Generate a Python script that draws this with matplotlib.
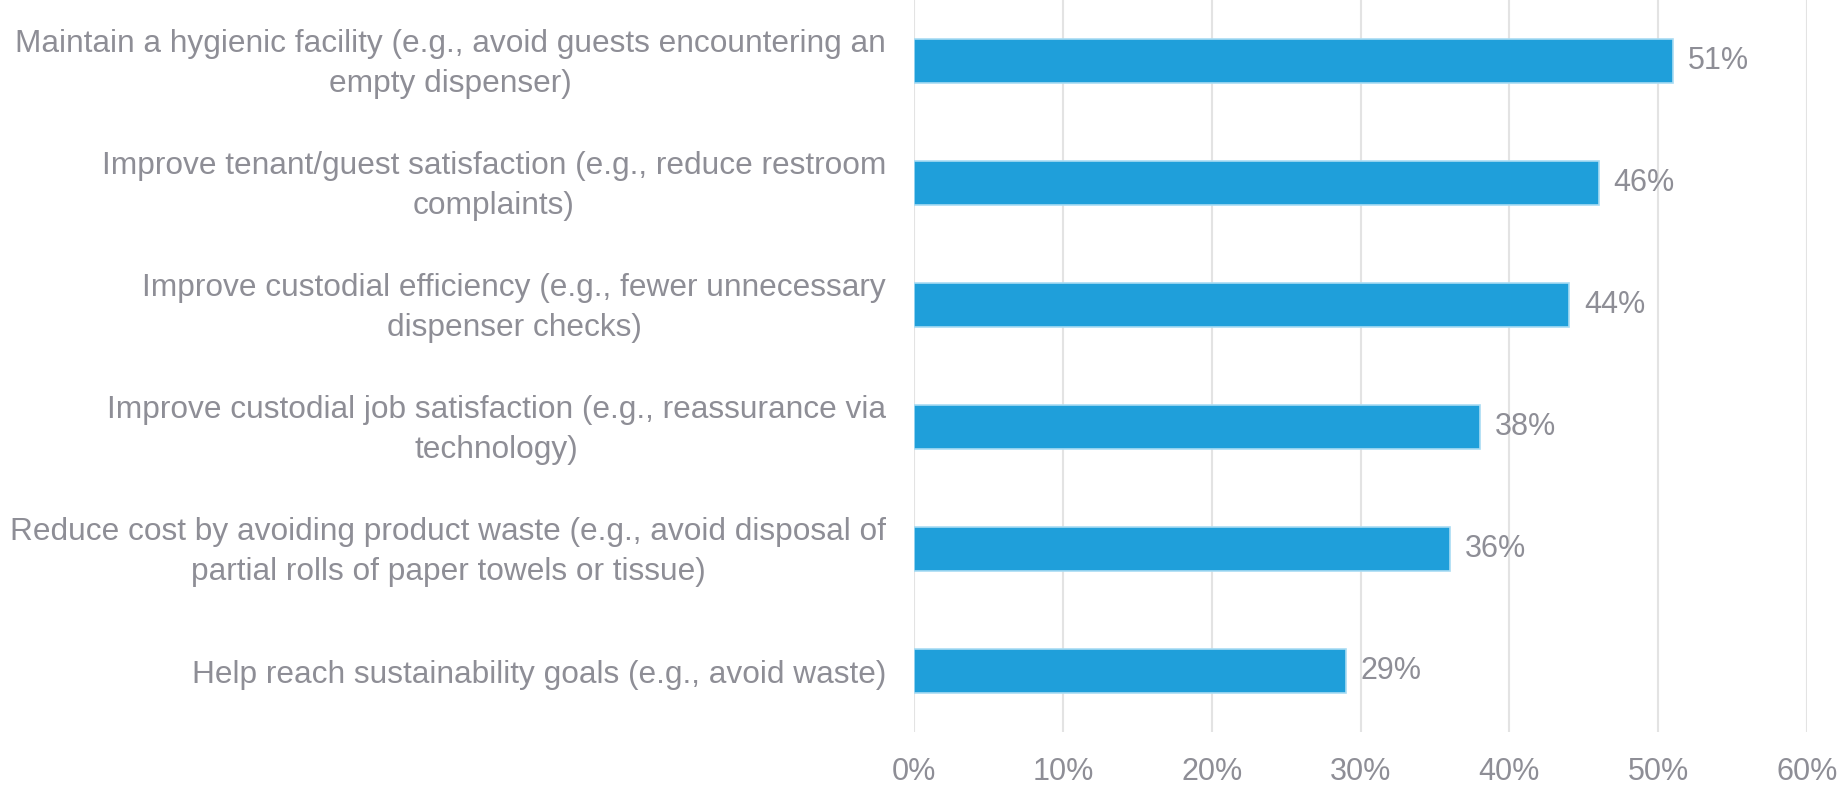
import matplotlib
matplotlib.use("Agg")
import matplotlib.pyplot as plt
from matplotlib.ticker import FuncFormatter
from matplotlib.transforms import ScaledTranslation

categories = [
    "Maintain a hygienic facility (e.g., avoid guests encountering an\nempty dispenser)",
    "Improve tenant/guest satisfaction (e.g., reduce restroom\ncomplaints)",
    "Improve custodial efficiency (e.g., fewer unnecessary\ndispenser checks)",
    "Improve custodial job satisfaction (e.g., reassurance via\ntechnology)",
    "Reduce cost by avoiding product waste (e.g., avoid disposal of\npartial rolls of paper towels or tissue)",
    "Help reach sustainability goals (e.g., avoid waste)",
]
values = [51, 46, 44, 38, 36, 29]
xticks = [0, 10, 20, 30, 40, 50, 60]

BAR = "#1f9fda"
TEXT = "#8e8e96"
GRID = "#e3e3e3"

plt.rcParams["font.family"] = ["Liberation Sans", "DejaVu Sans"]

fig = plt.figure(figsize=(18.44, 7.85), dpi=100)
ax = fig.add_axes([914 / 1844, 53 / 785, (1807 - 914) / 1844, 732 / 785])

ypos = list(range(len(categories)))
ax.barh(ypos, values, height=0.36, color=BAR, edgecolor="#a9dcf3",
        linewidth=1.2, zorder=3)
for y, v in zip(ypos, values):
    ax.text(v + 1.0, y, f"{v}%", va="center", ha="left", fontsize=22, color=TEXT)

ax.set_xlim(0, 60)
ax.set_ylim(len(categories) - 0.5, -0.5)
ax.set_xticks(xticks)
ax.xaxis.set_major_formatter(FuncFormatter(lambda x, _: f"{x:.0f}%"))
ax.set_yticks(ypos)
ax.set_yticklabels(categories, multialignment="center", fontsize=22.8,
                   linespacing=1.42)
ax.tick_params(axis="both", length=0, colors=TEXT)
ax.tick_params(axis="x", labelsize=22, pad=18)
ax.tick_params(axis="y", pad=20)
ax.grid(axis="x", color=GRID, linewidth=1.5, zorder=0)
for s in ax.spines.values():
    s.set_visible(False)

# nudge two-line category labels up so the block sits centred on its bar
lift = ScaledTranslation(0, 4 / 72, fig.dpi_scale_trans)
for lbl in ax.get_yticklabels():
    if "\n" in lbl.get_text():
        lbl.set_transform(lbl.get_transform() + lift)

fig.savefig("out.png", dpi=100)
